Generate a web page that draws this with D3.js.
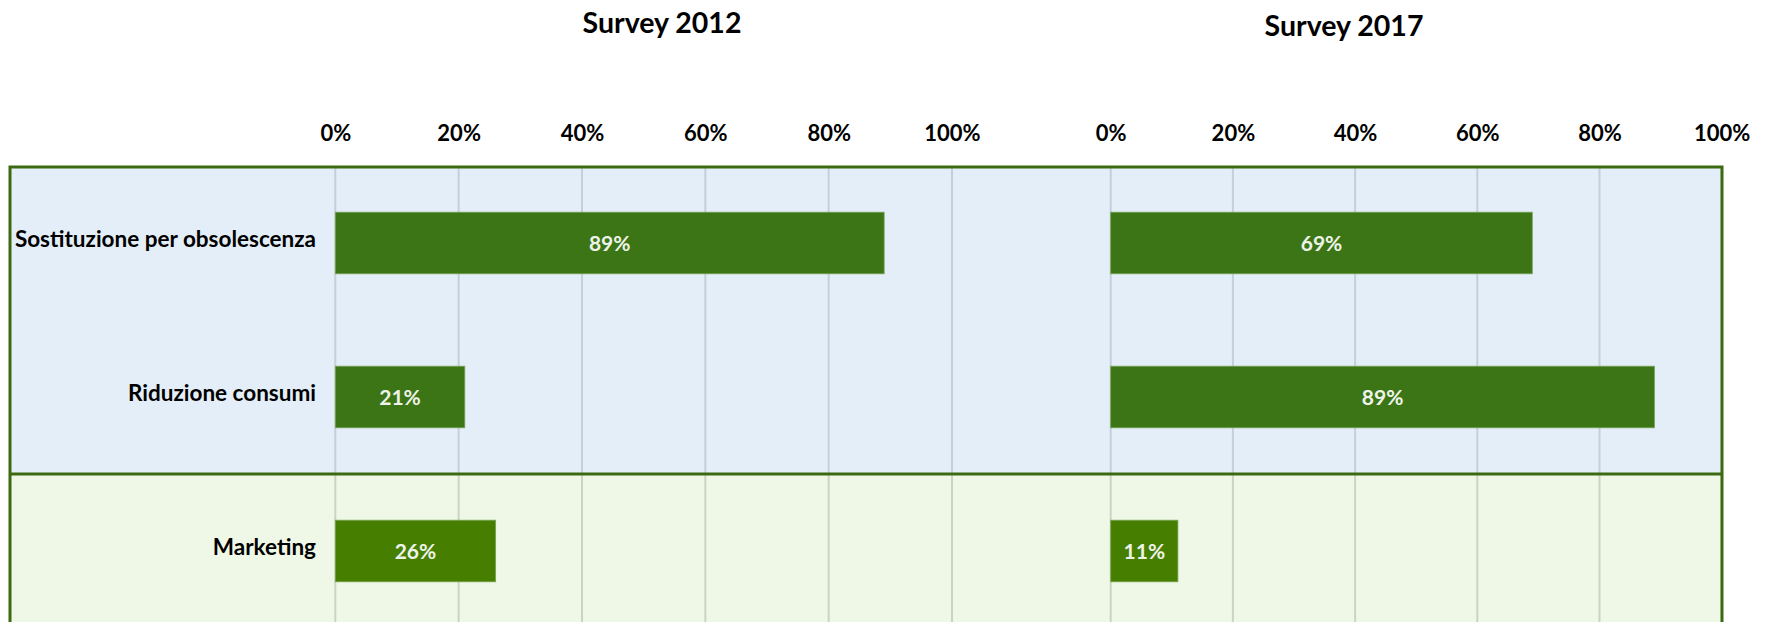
<!DOCTYPE html>
<html>
<head>
<meta charset="utf-8">
<script src="https://cdn.jsdelivr.net/npm/d3@7"></script>
<style>
    html, body { margin: 0; padding: 0; background: #fff; }
    svg { display: block; }
    text { font-family: Lato, "Open Sans", sans-serif; font-weight: bold; }
</style>
</head>
<body>
<svg id="chart" width="1766" height="622"></svg>
<script>
'use strict';

// data
const categories = ['Sostituzione per obsolescenza', 'Riduzione consumi', 'Marketing'];
const categoryGroup = [0, 0, 1];
const survey2012 = [89, 21, 26];
const survey2017 = [69, 89, 11];
const tickValues = [0, 20, 40, 60, 80, 100];
const panelTitles = ['Survey 2012', 'Survey 2017'];

const rowFill = ['#e4eef8', '#eff8e6'];
const gridColor = ['#c5cfdb', '#cad4c3'];
const barFill = ['#3b7515', '#467e00'];
const borderColor = '#3b6a10';

const svg = d3.select('#chart');

const frame = { left: 10, right: 1722, top: 166, bottom: 628 };

const y = d3.scaleBand()
    .domain(categories)
    .range([frame.top, frame.bottom])
    .paddingInner(0.6)
    .paddingOuter(0.3);

const step = y.step();
const rowTop = (c) => y(c) - step * y.paddingOuter();

const panels = [
    { title: panelTitles[0], values: survey2012, x: d3.scaleLinear().domain([0, 100]).range([335.3, 952]), titleX: 662, titleY: 33 },
    { title: panelTitles[1], values: survey2017, x: d3.scaleLinear().domain([0, 100]).range([1110.7, 1721.7]), titleX: 1344, titleY: 36 }
];

// row backgrounds
svg.append('g')
    .selectAll('rect')
    .data(categories)
    .enter().append('rect')
    .attr('x', frame.left)
    .attr('width', frame.right - frame.left)
    .attr('y', d => rowTop(d))
    .attr('height', step)
    .attr('fill', (d, i) => rowFill[categoryGroup[i]]);

panels.forEach((panel) => {
    let g = svg.append('g');

    // grid lines, coloured per row
    categories.forEach((c, i) => {
        g.append('g')
            .selectAll('line')
            .data(tickValues)
            .enter().append('line')
            .attr('x1', d => panel.x(d))
            .attr('x2', d => panel.x(d))
            .attr('y1', rowTop(c))
            .attr('y2', rowTop(c) + step)
            .attr('stroke', gridColor[categoryGroup[i]])
            .attr('stroke-width', 2);
    });

    // tick labels
    let axis = d3.axisTop(panel.x)
        .tickValues(tickValues)
        .tickSize(0)
        .tickPadding(0)
        .tickFormat(d => d + '%');

    g.append('g')
        .attr('transform', 'translate(0,141)')
        .call(axis)
        .call(a => a.select('.domain').remove())
        .selectAll('.tick text')
        .attr('y', 0)
        .attr('dy', 0)
        .attr('fill', '#000')
        .style('font-size', '22px')
        .style('font-family', 'Lato, sans-serif')
        .style('font-weight', 'bold');

    // bars
    g.append('g')
        .selectAll('rect')
        .data(panel.values)
        .enter().append('rect')
        .attr('x', panel.x(0))
        .attr('y', (d, i) => y(categories[i]))
        .attr('width', d => panel.x(d) - panel.x(0))
        .attr('height', y.bandwidth())
        .attr('fill', (d, i) => barFill[categoryGroup[i]])
        .attr('stroke', '#78a455')
        .attr('stroke-width', 0.8);

    // value labels
    g.append('g')
        .selectAll('text')
        .data(panel.values)
        .enter().append('text')
        .attr('x', d => (panel.x(0) + panel.x(d)) / 2)
        .attr('y', (d, i) => y(categories[i]) + y.bandwidth() / 2 + 8)
        .attr('text-anchor', 'middle')
        .attr('fill', '#eef3ea')
        .style('font-size', '21px')
        .text(d => d + '%');

    // panel title
    svg.append('text')
        .attr('x', panel.titleX)
        .attr('y', panel.titleY)
        .attr('text-anchor', 'middle')
        .attr('fill', '#000')
        .style('font-size', '28.5px')
        .text(panel.title);
});

// category labels
svg.append('g')
    .selectAll('text')
    .data(categories)
    .enter().append('text')
    .attr('x', 316)
    .attr('y', d => y(d) + y.bandwidth() / 2 + 4)
    .attr('text-anchor', 'end')
    .attr('fill', '#000')
    .style('font-size', '22.5px')
    .text(d => d);

// frame and group divider
svg.append('rect')
    .attr('x', frame.left)
    .attr('y', frame.top + 1)
    .attr('width', frame.right - frame.left)
    .attr('height', frame.bottom - frame.top)
    .attr('fill', 'none')
    .attr('stroke', borderColor)
    .attr('stroke-width', 3);

svg.append('line')
    .attr('x1', frame.left)
    .attr('x2', frame.right)
    .attr('y1', rowTop(categories[2]))
    .attr('y2', rowTop(categories[2]))
    .attr('stroke', borderColor)
    .attr('stroke-width', 3);
</script>
</body>
</html>
